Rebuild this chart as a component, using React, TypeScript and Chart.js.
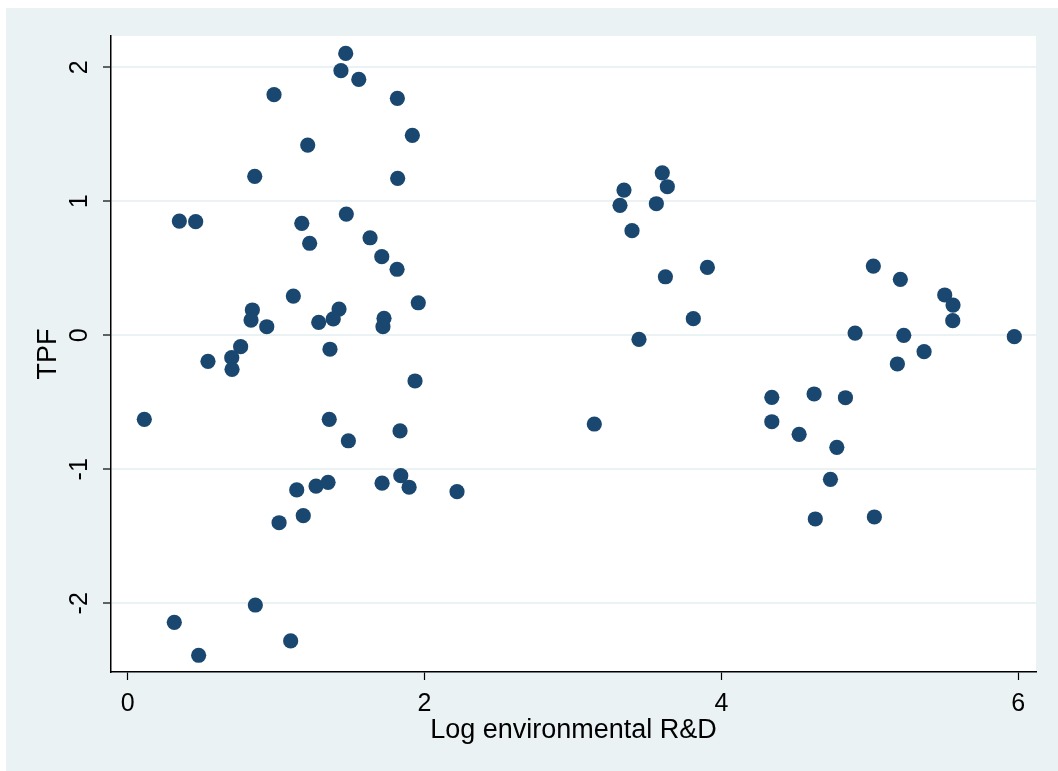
import React, { useEffect, useRef } from "react";
import { Chart, registerables } from "chart.js";

Chart.register(...registerables);

const logEnvRD: number[] = [
  1.469, 1.437, 1.557, 0.986, 1.817, 1.918, 1.213, 0.856, 1.819, 0.348,
  0.458, 1.173, 1.473, 1.226, 1.633, 1.712, 1.815, 1.116, 1.958, 0.84,
  0.831, 0.937, 1.287, 1.424, 1.385, 1.727, 1.72, 0.761, 0.701, 0.541,
  0.703, 1.363, 1.936, 0.112, 1.358, 1.835, 1.487, 1.139, 1.269, 1.35,
  1.714, 1.84, 1.896, 2.219, 1.02, 1.183, 0.86, 0.314, 1.098, 0.478,
  3.602, 3.636, 3.344, 3.317, 3.562, 3.398, 3.906, 3.623, 3.811, 3.445,
  3.144,
  5.024, 5.206, 5.505, 5.561, 5.559, 4.901, 5.229, 5.366, 5.974, 5.186,
  4.34, 4.625, 4.836, 4.34, 4.524, 4.778, 4.735, 4.633, 5.031,
];

const tpf: number[] = [
  2.104, 1.975, 1.91, 1.796, 1.769, 1.493, 1.42, 1.187, 1.172, 0.853,
  0.848, 0.836, 0.905, 0.687, 0.728, 0.587, 0.493, 0.293, 0.243, 0.189,
  0.114, 0.064, 0.097, 0.196, 0.122, 0.127, 0.064, -0.085, -0.167, -0.194,
  -0.254, -0.104, -0.341, -0.627, -0.627, -0.714, -0.787, -1.154, -1.125, -1.097,
  -1.104, -1.048, -1.134, -1.167, -1.399, -1.346, -2.013, -2.142, -2.281, -2.388,
  1.213, 1.109, 1.084, 0.97, 0.982, 0.781, 0.507, 0.437, 0.124, -0.03,
  -0.662,
  0.517, 0.418, 0.301, 0.226, 0.109, 0.017, 0.0, -0.122, -0.01, -0.214,
  -0.463, -0.438, -0.466, -0.645, -0.739, -0.836, -1.075, -1.371, -1.356,
];

const xTicks: number[] = [0, 2, 4, 6];
const yTicks: number[] = [-2, -1, 0, 1, 2];

const xTitle = "Log environmental R&D";
const yTitle = "TPF";

const FONT = "'Liberation Sans', Arial, Helvetica, sans-serif";
const BG = "#EAF2F3";
const MARKER = "#1A476F";

const bgPlugin = {
  id: "stataBg",
  beforeDraw(chart: any) {
    const { ctx, chartArea } = chart;
    ctx.save();
    ctx.fillStyle = "#ffffff";
    ctx.fillRect(0, 0, chart.width, chart.height);
    ctx.fillStyle = BG;
    ctx.fillRect(6, 8, chart.width - 6, chart.height - 8);
    ctx.fillStyle = "#ffffff";
    ctx.fillRect(
      chartArea.left,
      chartArea.top,
      chartArea.right - chartArea.left,
      chartArea.bottom - chartArea.top
    );
    ctx.restore();
  },
};

export default function App() {
  const canvasRef = useRef<HTMLCanvasElement | null>(null);

  useEffect(() => {
    if (!canvasRef.current) return;
    const points = logEnvRD.map((x, i) => ({ x, y: tpf[i] }));
    const chart = new Chart(canvasRef.current, {
      type: "scatter",
      data: {
        datasets: [
          {
            data: points,
            backgroundColor: MARKER,
            borderColor: MARKER,
            borderWidth: 0,
            pointRadius: 7.6,
            pointHoverRadius: 7.6,
          },
        ],
      },
      options: {
        responsive: false,
        animation: false,
        events: [],
        layout: { padding: { top: 36, right: 22, left: 0, bottom: 0 } },
        plugins: {
          legend: { display: false },
          tooltip: { enabled: false },
        },
        scales: {
          x: {
            type: "linear",
            min: -0.1125,
            max: 6.12,
            afterBuildTicks: (scale: any) => {
              scale.ticks = xTicks.map((v) => ({ value: v }));
            },
            afterFit: (scale: any) => {
              scale.height = 99;
            },
            grid: {
              drawOnChartArea: false,
              drawTicks: true,
              tickLength: 8,
              tickColor: "#000000",
              tickWidth: 1.2,
            },
            border: { display: true, color: "#000000", width: 1.5 },
            ticks: {
              color: "#000000",
              font: { family: FONT, size: 25, lineHeight: 1.2 },
              padding: 9,
              maxRotation: 0,
              minRotation: 0,
            },
            title: {
              display: true,
              text: xTitle,
              color: "#000000",
              font: { family: FONT, size: 27, lineHeight: 1.2 },
              padding: { top: 0, bottom: 23.8 },
            },
          },
          y: {
            type: "linear",
            min: -2.513,
            max: 2.234,
            afterBuildTicks: (scale: any) => {
              scale.ticks = yTicks.map((v) => ({ value: v }));
            },
            afterFit: (scale: any) => {
              scale.width = 111;
            },
            grid: {
              color: BG,
              lineWidth: 2,
              drawTicks: true,
              tickLength: 8,
              tickColor: "#000000",
              tickWidth: 1.2,
            },
            border: { display: true, color: "#000000", width: 1.5 },
            ticks: {
              color: "#000000",
              font: { family: FONT, size: 25, lineHeight: 1.2 },
              padding: 12,
              minRotation: 90,
              maxRotation: 90,
              crossAlign: "center",
            },
            title: {
              display: true,
              text: yTitle,
              color: "#000000",
              font: { family: FONT, size: 27, lineHeight: 1.2 },
              padding: { top: 32.8, bottom: 0 },
            },
          },
        },
      },
      plugins: [bgPlugin],
    });
    return () => chart.destroy();
  }, []);

  return (
    <div style={{ position: "fixed", left: 0, top: 0, width: 1058, height: 771 }}>
      <canvas ref={canvasRef} width={1058} height={771} style={{ display: "block" }} />
    </div>
  );
}
